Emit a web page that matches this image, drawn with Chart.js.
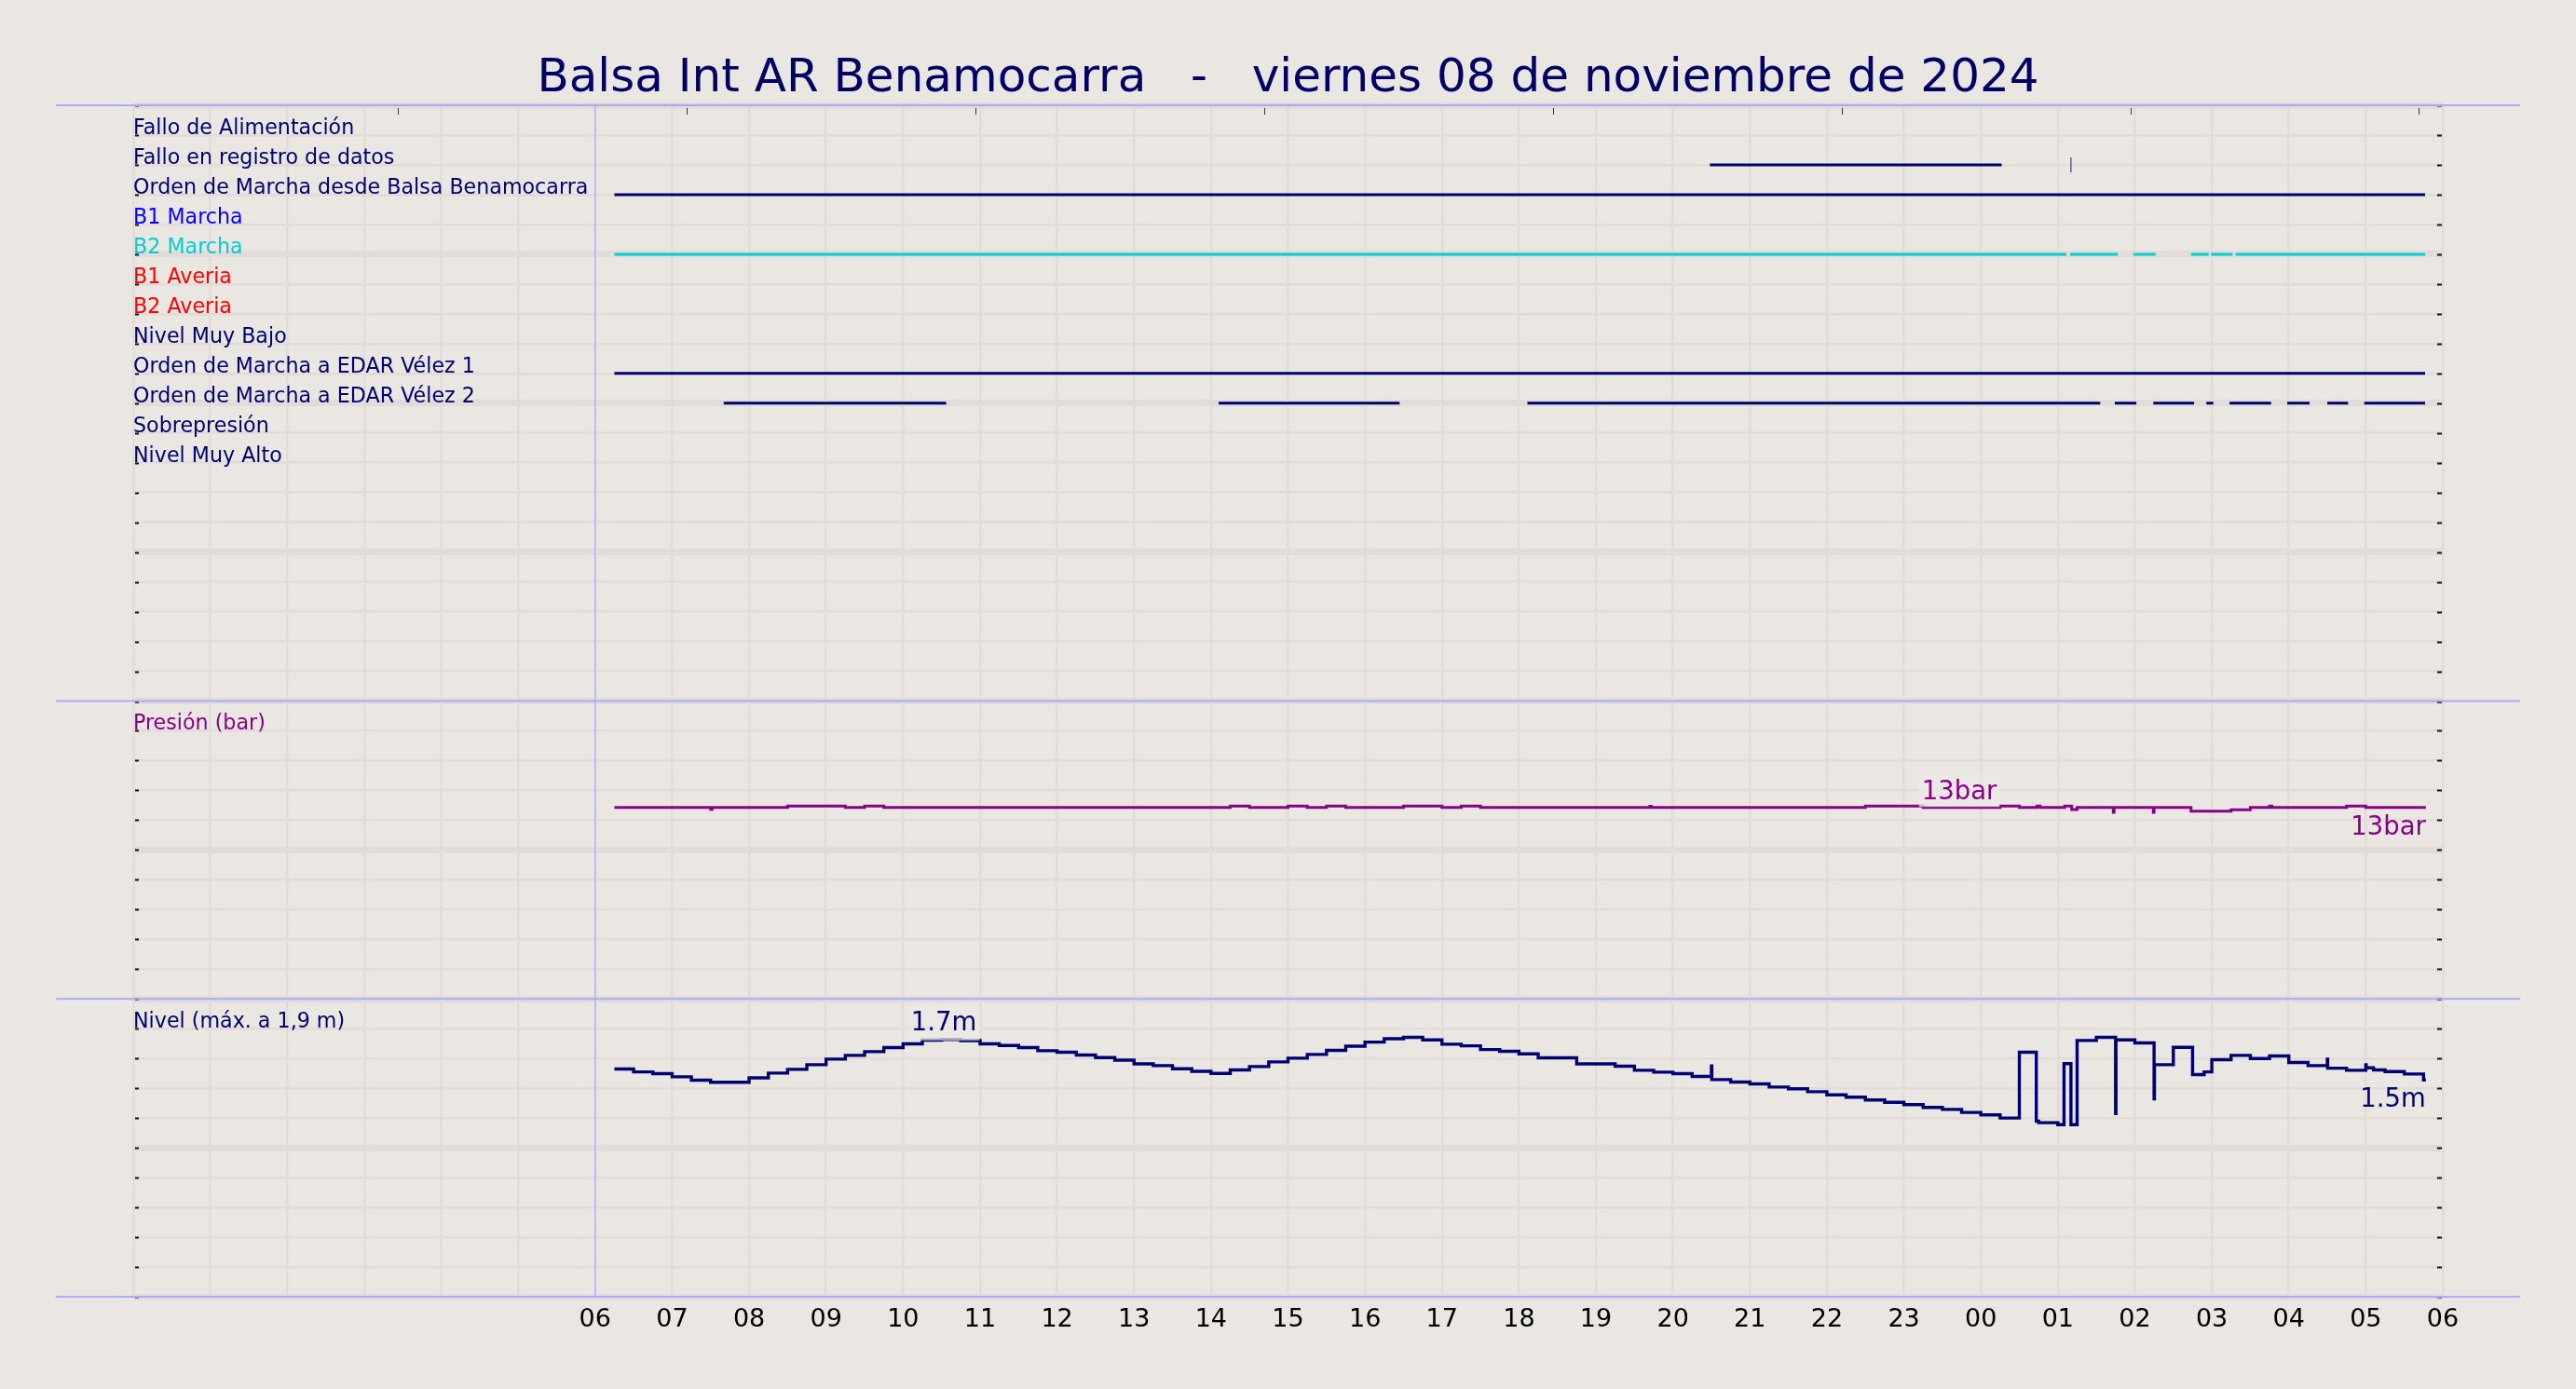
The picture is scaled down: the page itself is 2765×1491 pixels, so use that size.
<!DOCTYPE html>
<html>
<head>
<meta charset="utf-8">
<script src="https://cdn.jsdelivr.net/npm/chart.js@4.4.1/dist/chart.umd.min.js"></script>
<style>
  html, body { margin: 0; padding: 0; background: #EAE6E1; }
  canvas { display: block; }
</style>
</head>
<body>
<canvas id="grafico" width="2765" height="1491"></canvas>
<script>
const titulo = "Balsa Int AR Benamocarra   -   viernes 08 de noviembre de 2024";

// horas contadas desde las 00:00 del viernes 8 (24 = 00:00 del sábado)
const horasEje = [0, 1, 2, 3, 4, 5, 6, 7, 8, 9, 10, 11, 12, 13, 14, 15, 16, 17, 18, 19, 20, 21, 22, 23, 24, 25, 26, 27, 28, 29, 30];
const marcasSuperiores = [3.44, 7.19, 10.94, 14.69, 18.44, 22.19, 25.94, 29.69];

// señales digitales
const senales = ["Fallo de Alimentación", "Fallo en registro de datos", "Orden de Marcha desde Balsa Benamocarra",
  "B1 Marcha", "B2 Marcha", "B1 Averia", "B2 Averia", "Nivel Muy Bajo",
  "Orden de Marcha a EDAR Vélez 1", "Orden de Marcha a EDAR Vélez 2", "Sobrepresión", "Nivel Muy Alto"];
const coloresSenal = ["#000070", "#000070", "#000070", "#0000FF", "#00CED1", "#FF0000", "#FF0000", "#000070",
  "#000070", "#000070", "#000070", "#000070"];

const tramosFalloAlim = [];
const tramosFalloRegistro = [[20.48, 24.27]];
const eventosFalloRegistro = [25.17];
const tramosOrdenBalsa = [[6.25, 29.77]];
const tramosB1Marcha = [];
const tramosB2Marcha = [[6.25, 25.11], [25.16, 25.78], [25.98, 26.27], [26.73, 26.96], [26.99, 27.27], [27.31, 29.77]];
const tramosB1Averia = [];
const tramosB2Averia = [];
const tramosNivelBajo = [];
const tramosEdar1 = [[6.25, 29.77]];
const tramosEdar2 = [[7.67, 10.56], [14.10, 16.45], [18.11, 25.55], [25.74, 26.02], [26.24, 26.77], [26.93, 27.02],
  [27.23, 27.77], [27.98, 28.27], [28.50, 28.77], [28.98, 29.77]];
const tramosSobrepresion = [];
const tramosNivelAlto = [];

const tramosSenales = [tramosFalloAlim, tramosFalloRegistro, tramosOrdenBalsa, tramosB1Marcha, tramosB2Marcha,
  tramosB1Averia, tramosB2Averia, tramosNivelBajo, tramosEdar1, tramosEdar2, tramosSobrepresion, tramosNivelAlto];

// presión (bar)
const presionHoras = [6.25, 7.5, 7.52, 8.5, 9.25, 9.5, 9.75, 14.25, 14.5, 15.0, 15.25, 15.5, 15.75, 16.5, 17.0, 17.25,
  17.5, 19.7, 19.72, 22.5, 23.25, 24.25, 24.5, 24.73, 24.77, 25.09, 25.18, 25.25, 25.72, 25.73, 26.24, 26.25, 26.73,
  27.25, 27.5, 27.75, 27.78, 28.75, 29.0, 29.78];
const presionValores = [12.86, 12.73, 12.86, 12.95, 12.86, 12.95, 12.86, 12.95, 12.86, 12.95, 12.86, 12.95, 12.86,
  12.95, 12.86, 12.95, 12.86, 12.93, 12.86, 12.95, 12.86, 12.95, 12.86, 12.95, 12.86, 12.95, 12.71, 12.86, 12.52,
  12.86, 12.52, 12.86, 12.6, 12.7, 12.86, 12.95, 12.86, 12.95, 12.86, 12.86];

// nivel (m)
const nivelHoras = [6.25, 6.5, 6.75, 7, 7.25, 7.5, 7.75, 8, 8.25, 8.5, 8.75, 9, 9.25, 9.5, 9.75, 10, 10.25, 10.5, 10.75,
  11, 11.25, 11.5, 11.75, 12, 12.25, 12.5, 12.75, 13, 13.25, 13.5, 13.75, 14, 14.25, 14.5, 14.75, 15, 15.25, 15.5,
  15.75, 16, 16.25, 16.5, 16.75, 17, 17.25, 17.5, 17.75, 18, 18.25, 18.5, 18.75, 19, 19.25, 19.5, 19.75, 20, 20.25,
  20.5, 20.505, 20.75, 21, 21.25, 21.5, 21.75, 22, 22.25, 22.5, 22.75, 23, 23.25, 23.5, 23.75, 24, 24.25,
  24.5, 24.72, 24.75, 25.0, 25.08, 25.17, 25.25, 25.5, 25.75, 25.755, 26.0, 26.25, 26.255, 26.5, 26.75, 26.9, 27.0,
  27.25, 27.5, 27.75, 28.0, 28.25, 28.5, 28.505, 28.75, 29.0, 29.005, 29.1, 29.25, 29.5, 29.75, 29.78];
const nivelValores = [1.529, 1.510, 1.498, 1.477, 1.454, 1.44, 1.44, 1.47, 1.502, 1.527, 1.558, 1.596, 1.621, 1.646,
  1.673, 1.698, 1.723, 1.727, 1.72, 1.698, 1.687, 1.673, 1.652, 1.642, 1.623, 1.606, 1.589, 1.564, 1.552, 1.531, 1.514,
  1.5, 1.523, 1.546, 1.577, 1.602, 1.627, 1.654, 1.683, 1.71, 1.733, 1.742, 1.725, 1.696, 1.685, 1.66, 1.648, 1.631,
  1.604, 1.604, 1.564, 1.564, 1.548, 1.521, 1.508, 1.498, 1.479,
  1.55, 1.458, 1.442, 1.429, 1.408, 1.396, 1.377, 1.356, 1.34, 1.321, 1.306, 1.29, 1.271, 1.258, 1.2375, 1.221, 1.2,
  1.642, 1.18, 1.169, 1.156, 1.565, 1.156, 1.721, 1.742, 1.23, 1.725, 1.704, 1.329, 1.558, 1.675, 1.492, 1.51, 1.592,
  1.621, 1.6, 1.617, 1.573, 1.552, 1.596, 1.535, 1.521, 1.558, 1.5375, 1.523, 1.5125, 1.496, 1.456, 1.456];

const fondo = "#EAE6E1";
const rejilla = "#E1DCDA";
const azulPanel = "#AAAAF8";
const marino = "#000070";
const purpura = "#880088";
const fuente = "'DejaVu Sans', sans-serif";

Chart.defaults.font.family = fuente;

const filaDe = k => 19 - k;

const datasets = [];
tramosSenales.forEach((tramos, k) => {
  const puntos = [];
  tramos.forEach(([a, b]) => {
    puntos.push({ x: a, y: filaDe(k) }, { x: b, y: filaDe(k) }, { x: b, y: null });
  });
  datasets.push({
    label: senales[k],
    data: puntos,
    yAxisID: "ySig",
    borderColor: coloresSenal[k],
    borderWidth: 3,
    pointRadius: 0,
    spanGaps: false
  });
});

datasets.push({
  label: "Fallo en registro (evento)",
  data: eventosFalloRegistro.map(h => ({ x: h, y: filaDe(1) })),
  yAxisID: "ySig",
  showLine: false,
  pointStyle: "line",
  rotation: 90,
  pointRadius: 8,
  borderWidth: 1.2,
  borderColor: "#3a3a9a"
});

datasets.push({
  label: "Presión",
  data: presionHoras.map((h, i) => ({ x: h, y: presionValores[i] })),
  yAxisID: "yPres",
  borderColor: purpura,
  borderWidth: 3,
  pointRadius: 0,
  stepped: "before"
});

datasets.push({
  label: "Nivel",
  data: nivelHoras.map((h, i) => ({ x: h, y: nivelValores[i] })),
  yAxisID: "yNivel",
  borderColor: marino,
  borderWidth: 3.4,
  pointRadius: 0,
  stepped: "before"
});

const anchoRejilla = ctx => (ctx.index % 5 === 0 ? 7 : 2.5);

function ejeY(min, max, paso, peso) {
  return {
    type: "linear",
    position: "right",
    stack: "paneles",
    stackWeight: peso,
    min: min,
    max: max,
    ticks: { display: false, stepSize: paso },
    grid: { color: rejilla, lineWidth: anchoRejilla, drawTicks: false },
    border: { display: false },
    afterFit: s => { s.width = 0; }
  };
}

const anotaciones = [
  { texto: "1.7m", eje: "yNivel", hora: 10.53, valor: 1.727, alinear: "center", desp: -10, caja: true, color: marino },
  { texto: "13bar", eje: "yPres", hora: 23.72, valor: 12.95, alinear: "center", desp: -7, caja: true, color: purpura },
  { texto: "13bar", eje: "yPres", hora: 29.78, valor: 12.86, alinear: "right", desp: 29, caja: false, color: purpura },
  { texto: "1.5m", eje: "yNivel", hora: 29.78, valor: 1.456, alinear: "right", desp: 29, caja: false, color: marino }
];

const decoracion = {
  id: "decoracion",
  beforeDraw(chart) {
    const c = chart.ctx;
    c.save();
    c.fillStyle = fondo;
    c.fillRect(0, 0, chart.width, chart.height);
    c.restore();
  },
  afterDatasetsDraw(chart) {
    const c = chart.ctx;
    const area = chart.chartArea;
    const x = chart.scales.x;
    c.save();

    // marcas interiores a izquierda y derecha
    c.strokeStyle = "#111";
    c.lineWidth = 2;
    ["ySig", "yPres", "yNivel"].forEach(id => {
      const s = chart.scales[id];
      s.ticks.forEach(t => {
        const y = Math.round(s.getPixelForValue(t.value)) + 0.5;
        c.beginPath();
        c.moveTo(area.left + 2, y); c.lineTo(area.left + 6, y);
        c.moveTo(area.right - 6, y); c.lineTo(area.right - 1, y);
        c.stroke();
      });
    });

    // marcas superiores
    c.lineWidth = 1;
    c.strokeStyle = "#333";
    marcasSuperiores.forEach(h => {
      const px = Math.round(x.getPixelForValue(h)) + 0.5;
      c.beginPath(); c.moveTo(px, area.top + 3); c.lineTo(px, area.top + 10); c.stroke();
    });

    // separadores de paneles
    c.strokeStyle = azulPanel;
    c.lineWidth = 2;
    const cortes = [chart.scales.ySig.top, chart.scales.ySig.bottom, chart.scales.yPres.bottom, chart.scales.yNivel.bottom];
    cortes.forEach(y => {
      c.beginPath(); c.moveTo(60, y); c.lineTo(2705, y); c.stroke();
    });
    c.lineWidth = 1.2;
    const x6 = x.getPixelForValue(horasEje[6]);
    c.beginPath(); c.moveTo(x6, area.top); c.lineTo(x6, area.bottom); c.stroke();

    // nombres de señales
    c.font = "22.2px " + fuente;
    c.textAlign = "left";
    c.textBaseline = "alphabetic";
    senales.forEach((nombre, k) => {
      c.fillStyle = coloresSenal[k];
      c.fillText(nombre, area.left, chart.scales.ySig.getPixelForValue(filaDe(k)) - 1);
    });
    c.fillStyle = purpura;
    c.fillText("Presión (bar)", area.left, chart.scales.yPres.getPixelForValue(18) - 1);
    c.fillStyle = marino;
    c.fillText("Nivel (máx. a 1,9 m)", area.left, chart.scales.yNivel.getPixelForValue(1.8) - 1);

    // anotaciones de valores
    c.font = "27.5px " + fuente;
    anotaciones.forEach(a => {
      const px = x.getPixelForValue(a.hora);
      const py = chart.scales[a.eje].getPixelForValue(a.valor);
      const w = c.measureText(a.texto).width;
      const izq = a.alinear === "center" ? px - w / 2 : px - w;
      if (a.caja) {
        c.fillStyle = "rgba(236,232,228,0.7)";
        c.fillRect(izq - 3, py + a.desp - 26, w + 6, 26 - a.desp + 1);
      }
      c.fillStyle = a.color;
      c.textAlign = "left";
      c.fillText(a.texto, izq, py + a.desp);
    });

    // título
    c.font = "50px " + fuente;
    c.fillStyle = "#000066";
    c.textAlign = "center";
    c.fillText(titulo, (area.left + area.right) / 2, 98);
    c.restore();
  }
};

new Chart(document.getElementById("grafico"), {
  type: "line",
  data: { datasets: datasets },
  options: {
    responsive: false,
    animation: false,
    parsing: true,
    layout: { padding: { top: 113, left: 143, right: 143, bottom: 0 } },
    plugins: { legend: { display: false }, title: { display: false }, tooltip: { enabled: false } },
    scales: {
      x: {
        type: "linear",
        position: "bottom",
        min: horasEje[0],
        max: horasEje[horasEje.length - 1],
        afterBuildTicks: s => { s.ticks = horasEje.map(v => ({ value: v })); },
        ticks: {
          autoSkip: false,
          maxRotation: 0,
          padding: 9,
          color: "#000",
          font: { size: 27 },
          callback: v => (v >= 6 ? String(v % 24).padStart(2, "0") : "")
        },
        grid: { color: rejilla, lineWidth: 2.5, drawTicks: false },
        border: { display: false },
        afterFit: s => { s.height = 99; }
      },
      ySig: ejeY(0, 20, 1, 2),
      yPres: ejeY(0, 20, 2, 1),
      yNivel: ejeY(0, 2, 0.2, 1)
    }
  },
  plugins: [decoracion]
});
</script>
</body>
</html>
